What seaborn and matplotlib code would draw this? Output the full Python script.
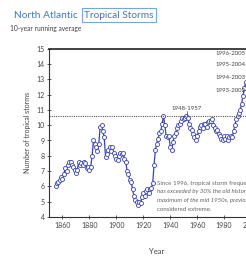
import matplotlib
matplotlib.use("Agg")
import matplotlib.pyplot as plt
import seaborn as sns
import pandas as pd

years = list(range(1855, 2001))
storms = [
    6.0, 6.2, 6.3, 6.4, 6.6, 6.5, 6.8, 7.2, 7.0, 7.4,   # 1855-1864
    7.6, 7.6, 7.4, 7.3, 7.1, 6.9, 7.1, 7.6, 7.4, 7.5,   # 1865-1874
    7.4, 7.6, 7.5, 7.2, 7.3, 7.1, 7.3, 8.0, 9.0, 8.8,   # 1875-1884
    8.6, 8.3, 8.8, 9.9, 10.0, 9.6, 9.2, 7.9, 8.1, 8.4,  # 1885-1894
    8.6, 8.3, 8.6, 8.2, 8.0, 7.8, 7.7, 8.0, 8.2, 8.1,   # 1895-1904
    8.2, 7.8, 7.6, 7.0, 6.8, 6.4, 6.3, 5.8, 5.4, 5.1,   # 1905-1914
    5.0, 4.8, 5.0, 4.9, 5.3, 5.6, 5.4, 5.7, 5.8, 5.6,   # 1915-1924
    5.8, 5.9, 6.2, 7.4, 8.4, 8.8, 9.1, 9.5, 9.6, 10.1,  # 1925-1934
    10.6, 10.0, 9.3, 9.2, 9.3, 8.6, 8.4, 8.9, 9.3, 9.5, # 1935-1944
    9.8, 10.0, 10.1, 10.3, 10.5, 10.4, 10.5, 10.6, 10.5, 10.1,  # 1945-1954
    9.8, 9.7, 9.4, 9.2, 9.0, 9.3, 9.6, 9.9, 10.0, 9.8,  # 1955-1964
    10.1, 10.1, 9.9, 10.2, 10.3, 10.3, 10.4, 10.0, 9.8, 9.6,  # 1965-1974
    9.7, 9.4, 9.3, 9.1, 9.05, 9.3, 9.1, 9.3, 9.0, 9.25,  # 1975-1984
    9.3, 9.2, 9.6, 10.0, 10.4, 10.6, 10.8, 11.0, 11.4, 11.9,  # 1985-1994
    12.4, 12.8, 12.6, 13.2, 13.9, 14.6,                  # 1995-2000
]
old_max = 10.6
period_labels = ["1948-1957", "1993-2002", "1994-2003", "1995-2004", "1996-2005"]
period_label_y = [None, 12.3, 13.15, 13.95, 14.7]
note_lines = ["Since 1996, tropical storm frequency",
              "has exceeded by 30% the old historic",
              "maximum of the mid 1950s, previously",
              "considered extreme."]

sns.set_style("ticks")
plt.rcParams['font.family'] = ['Lato', 'DejaVu Sans']

fig = plt.figure(figsize=(2.46, 2.56), dpi=100)
fig.patch.set_facecolor("white")
ax = fig.add_axes([49/246, 39/256, 215.5/246, 168.3/256])

df = pd.DataFrame({"year": years, "storms": storms})
blue = "#3a44ae"
sns.lineplot(data=df, x="year", y="storms", ax=ax, color=blue, linewidth=0.9,
             marker="o", markersize=2.9, markerfacecolor="white",
             markeredgecolor=blue, markeredgewidth=0.6)

ax.axhline(old_max, color="#555555", linestyle=(0, (1, 1)), linewidth=0.8)

ax.set_xlim(1850, 2010)
ax.set_ylim(4, 15)
ax.set_yticks(range(4, 16))
ax.set_xticks(range(1860, 2001, 20))
ax.tick_params(axis="both", labelsize=5, colors="#444444", length=2.5, width=0.6,
               direction="inout", pad=2)
ax.set_xlabel("Year", fontsize=5.5, color="#444444", labelpad=14)
ax.set_ylabel("Number of tropical storms", fontsize=5, color="#444444", labelpad=4)

for s in ["left", "bottom"]:
    ax.spines[s].set_color("#333333")
    ax.spines[s].set_linewidth(0.8)
ax.spines["top"].set_visible(True)
ax.spines["top"].set_color("#222222")
ax.spines["top"].set_linewidth(1.2)
ax.spines["right"].set_visible(False)

# annotations
ax.text(1952.5, 10.95, period_labels[0], fontsize=4.3, color="#444444",
        ha="center", va="bottom")
ax.plot([1952.5, 1952.5], [10.6, 10.95], color="#444444", linewidth=0.5)
for lab, yv in zip(period_labels[1:], period_label_y[1:]):
    ax.text(1973.5, yv, lab, fontsize=4.3, color="#444444", ha="left", va="center")

for i, line in enumerate(note_lines):
    st = "italic" if i in (1, 2) else "normal"
    ax.text(1930.4, 6.22 - i * 0.57, line, fontsize=4.4, color="#666666",
            ha="left", va="center", style=st)

# title
fig.text(14/246, 1 - 15/256, "North Atlantic", fontsize=7.3, color="#3f79b8",
         ha="left", va="center")
fig.text(84/246, 1 - 15/256, "Tropical Storms", fontsize=7.3, color="#3f79b8",
         ha="left", va="center",
         bbox=dict(boxstyle="square,pad=0.2", facecolor="white",
                   edgecolor="#7aa6d6", linewidth=0.8))
fig.text(10/246, 1 - 29/256, "10-year running average", fontsize=4.8,
         color="#444444", ha="left", va="center")

fig.savefig("out.png", dpi=100, facecolor="white")
